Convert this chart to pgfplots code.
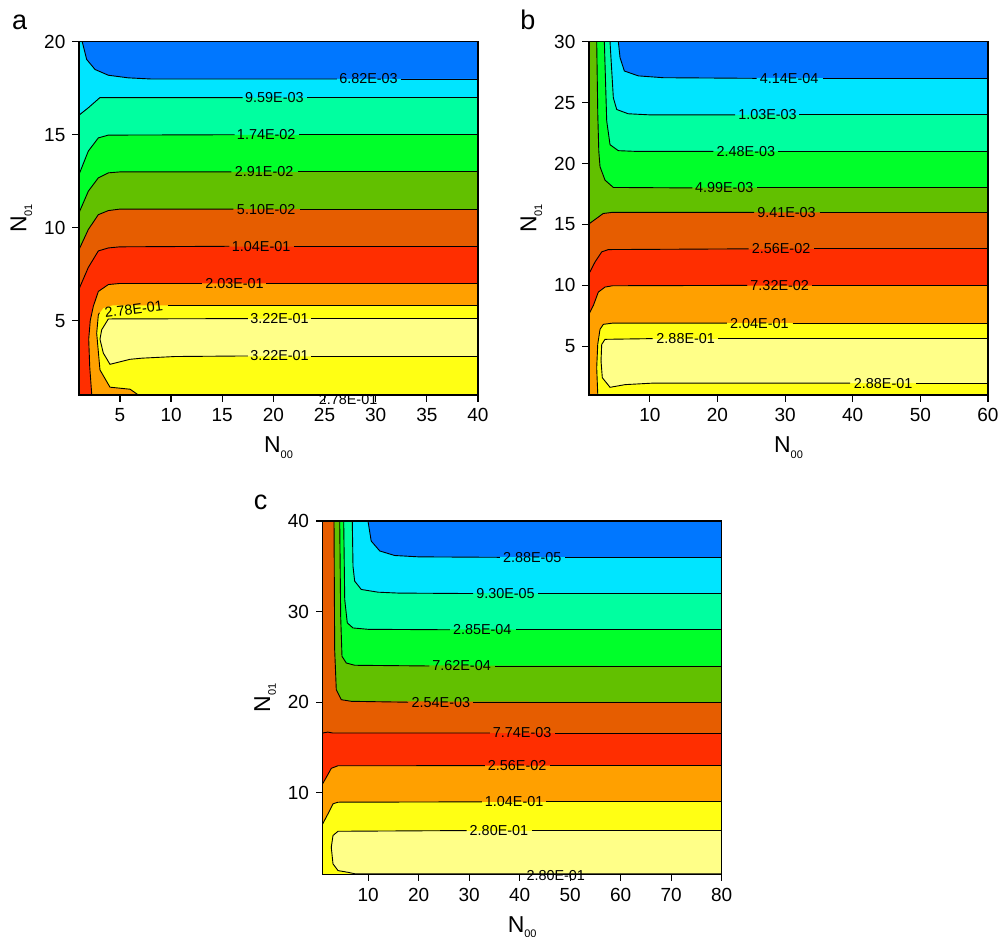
\documentclass[border=0pt]{standalone}
\usepackage{fontspec}
\setmainfont{Liberation Sans}
\usepackage{pgfplots}
\pgfplotsset{compat=1.18}
\definecolor{cBlue}{RGB}{0,119,255}
\definecolor{cCyan}{RGB}{0,229,255}
\definecolor{cAqua}{RGB}{0,255,160}
\definecolor{cGreen}{RGB}{0,255,42}
\definecolor{cOlive}{RGB}{98,192,0}
\definecolor{cDOrange}{RGB}{230,93,0}
\definecolor{cRed}{RGB}{255,46,0}
\definecolor{cOrange}{RGB}{255,160,0}
\definecolor{cYellow}{RGB}{255,255,20}
\definecolor{cLYellow}{RGB}{255,255,136}
\newcommand{\sublab}[2]{#1\raisebox{-2.8pt}{\fontsize{5.5}{6}\selectfont #2}}
\newcommand{\clab}[4][0]{\node[font=\fontsize{7.2}{8}\selectfont,inner sep=0pt,rotate=#1] at (axis cs:#2,#3) {#4};}
\pgfplotsset{
 cplot/.style={
  scale only axis, width=199.5pt, height=176.6pt, anchor=south west,
  axis on top, clip mode=individual,
  tick align=outside, xtick pos=left, ytick pos=left,
  major tick length=3.3pt,
  tick style={black, line width=0.6pt},
  axis line style={line width=0.7pt},
  ticklabel style={font=\fontsize{9.5}{11}\selectfont},
  /pgf/number format/assume math mode=true,
  xlabel style={font=\fontsize{11.5}{13}\selectfont, at={(axis description cs:0.5,-0.118)}, anchor=north, inner sep=0pt},
  ylabel style={font=\fontsize{11.5}{13}\selectfont, at={(axis description cs:-0.1163,0.5)}, anchor=south, inner sep=0pt},
  xlabel={\sublab{N}{00}}, ylabel={\sublab{N}{01}},
 },
 fl/.style={draw=none, fill=#1, forget plot, mark=none},
 cl/.style={black, line width=0.45pt, forget plot, mark=none},
}
\begin{document}
\begin{tikzpicture}
\useasboundingbox (0pt,0pt) rectangle (499pt,468.5pt);
% ================= panel a =================
\begin{axis}[cplot, at={(39.5pt,271pt)}, xmin=1, xmax=40, ymin=1, ymax=20,
  xtick={5,10,...,40}, ytick={5,10,15,20}]
\addplot[fl=cBlue] coordinates {(1,1) (40,1) (40,20) (1,20)} -- cycle;
\addplot[fl=cCyan] coordinates {(1,20) (1.32,20) (1.75,19.05) (2.57,18.51) (3.87,18.2) (5.82,18.06) (8,18.0) (40,18.0) (40,1) (1,1)} -- cycle;
\addplot[fl=cAqua] coordinates {(1,16.05) (1.91,16.45) (3.05,17.0) (40,17.0) (40,1) (1,1)} -- cycle;
\addplot[fl=cGreen] coordinates {(1,12.86) (1.91,14.12) (2.89,14.83) (3.87,14.98) (40,15) (40,1) (1,1)} -- cycle;
\addplot[fl=cOlive] coordinates {(1,10.8) (1.91,11.96) (2.89,12.68) (3.87,12.95) (5,13.0) (40,13) (40,1) (1,1)} -- cycle;
\addplot[fl=cDOrange] coordinates {(1,8.82) (1.91,9.9) (2.89,10.7) (3.87,10.92) (5,11) (40,11) (40,1) (1,1)} -- cycle;
\addplot[fl=cRed] coordinates {(1,6.7) (1.91,7.86) (2.89,8.75) (3.87,8.91) (5,8.97) (40,9) (40,1) (1,1)} -- cycle;
\addplot[fl=cOrange] coordinates {(2.25,1) (2.05,2.5) (1.95,4.0) (2.1,5.0) (2.40,5.77) (2.89,6.57) (3.87,6.94) (5,7.0) (40,7.0) (40,1)} -- cycle;
\addplot[fl=cYellow] coordinates {(6.8,1.0) (6.0,1.31) (4.03,1.42) (3.05,2.35) (2.73,4.32) (2.89,5.3) (3.38,5.67) (4.3,5.82) (40,5.82) (40,1)} -- cycle;
\addplot[fl=cLYellow] coordinates {(40,5.11) (3.87,5.09) (3.22,4.51) (3.05,4.0) (3.38,3.25) (4.03,2.65) (6.0,2.92) (7.13,2.98) (10.4,3.07) (40,3.1)} -- cycle;
% contour lines
\addplot[cl] coordinates {(1.32,20) (1.75,19.05) (2.57,18.51) (3.87,18.2) (5.82,18.06) (8,18.0) (26.2,18.0)};
\addplot[cl] coordinates {(32.5,18.0) (40,18.0)};
\addplot[cl] coordinates {(1,16.05) (1.91,16.45) (3.05,17.0) (17.0,17.0)};
\addplot[cl] coordinates {(23.3,17.0) (40,17.0)};
\addplot[cl] coordinates {(1,12.86) (1.91,14.12) (2.89,14.83) (3.87,14.98) (16.2,15)};
\addplot[cl] coordinates {(22.5,15) (40,15)};
\addplot[cl] coordinates {(1,10.8) (1.91,11.96) (2.89,12.68) (3.87,12.95) (5,13.0) (15.9,13)};
\addplot[cl] coordinates {(22.4,13) (40,13)};
\addplot[cl] coordinates {(1,8.82) (1.91,9.9) (2.89,10.7) (3.87,10.92) (5,11) (16.1,11)};
\addplot[cl] coordinates {(22.6,11) (40,11)};
\addplot[cl] coordinates {(1,6.7) (1.91,7.86) (2.89,8.75) (3.87,8.91) (5,8.97) (15.7,9)};
\addplot[cl] coordinates {(22.0,9) (40,9)};
\addplot[cl] coordinates {(2.25,1) (2.05,2.5) (1.95,4.0) (2.1,5.0) (2.40,5.77) (2.89,6.57) (3.87,6.94) (5,7.0) (13.0,7.0)};
\addplot[cl] coordinates {(19.3,7.0) (40,7.0)};
\addplot[cl] coordinates {(6.8,1.0) (6.0,1.31) (4.03,1.42) (3.05,2.35) (2.73,4.32) (2.89,5.3) (3.0,5.42)};
\addplot[cl] coordinates {(9.7,5.82) (40,5.82)};
\addplot[cl] coordinates {(40,5.11) (23.7,5.11)};
\addplot[cl] coordinates {(17.5,5.11) (3.87,5.09) (3.22,4.51) (3.05,4.0) (3.38,3.25) (4.03,2.65) (6.0,2.92) (7.13,2.98) (10.4,3.07) (17.5,3.1)};
\addplot[cl] coordinates {(23.7,3.1) (40,3.1)};
\addplot[cl] coordinates {(6.8,1.03) (40,1.03)};
\clab{29.3}{18.0}{6.82E-03}
\clab{20.1}{17.0}{9.59E-03}
\clab{19.3}{15.0}{1.74E-02}
\clab{19.1}{13.0}{2.91E-02}
\clab{19.3}{11.0}{5.10E-02}
\clab{18.8}{9.0}{1.04E-01}
\clab{16.2}{7.0}{2.03E-01}
\clab[7]{6.35}{5.6}{2.78E-01}
\clab{20.6}{5.11}{3.22E-01}
\clab{20.6}{3.1}{3.22E-01}
\clab{27.3}{0.75}{2.78E-01}
\end{axis}
% ================= panel b =================
\begin{axis}[cplot, at={(294.5pt,271pt)}, xmin=1, xmax=60, ymin=1, ymax=30,
  xtick={10,20,...,60}, ytick={5,10,...,30}]
\addplot[fl=cBlue] coordinates {(1,1) (60,1) (60,30) (1,30)} -- cycle;
\addplot[fl=cCyan] coordinates {(1,30) (5.34,30) (5.59,28.7) (6.23,27.6) (8.3,27.2) (12,27.05) (60,27) (60,1) (1,1)} -- cycle;
\addplot[fl=cAqua] coordinates {(1,30) (4.11,30) (4.6,25.4) (5.1,24.44) (6.8,24.09) (10,24.0) (60,24) (60,1) (1,1)} -- cycle;
\addplot[fl=cGreen] coordinates {(1,30) (3.27,30) (3.62,23.5) (4.11,21.55) (5.34,21.06) (8,21.0) (60,21) (60,1) (1,1)} -- cycle;
\addplot[fl=cOlive] coordinates {(1,30) (2.14,30) (2.3,24) (2.45,21) (2.63,19.74) (3.37,18.64) (4.6,18.04) (60,18) (60,1) (1,1)} -- cycle;
\addplot[fl=cDOrange] coordinates {(1,15.05) (3.1,15.9) (4.5,16.0) (60,16) (60,1) (1,1)} -- cycle;
\addplot[fl=cRed] coordinates {(1,10.96) (1.89,11.92) (2.88,12.75) (3.86,12.94) (60,13) (60,1) (1,1)} -- cycle;
\addplot[fl=cOrange] coordinates {(1,7.65) (1.64,8.34) (2.38,9.45) (3.37,9.86) (4.5,9.97) (60,10) (60,1) (1,1)} -- cycle;
\addplot[fl=cYellow] coordinates {(2.3,1) (2.14,3.22) (2.29,5.15) (2.63,6.39) (3.12,6.8) (4.5,6.9) (60,6.9) (60,1)} -- cycle;
\addplot[fl=cLYellow] coordinates {(60,5.63) (3.37,5.57) (2.88,5.15) (2.78,3.8) (2.97,2.42) (4.11,1.63) (6.33,1.85) (10.28,1.97) (60,1.97)} -- cycle;
\addplot[cl] coordinates {(5.34,30) (5.59,28.7) (6.23,27.6) (8.3,27.2) (12,27.05) (25.8,27.0)};
\addplot[cl] coordinates {(35.6,27) (60,27)};
\addplot[cl] coordinates {(4.11,30) (4.6,25.4) (5.1,24.44) (6.8,24.09) (10,24.0) (22.6,24)};
\addplot[cl] coordinates {(32.1,24) (60,24)};
\addplot[cl] coordinates {(3.27,30) (3.62,23.5) (4.11,21.55) (5.34,21.06) (8,21.0) (19.4,21)};
\addplot[cl] coordinates {(29.0,21) (60,21)};
\addplot[cl] coordinates {(2.14,30) (2.3,24) (2.45,21) (2.63,19.74) (3.37,18.64) (4.6,18.04) (16.3,18)};
\addplot[cl] coordinates {(25.9,18) (60,18)};
\addplot[cl] coordinates {(1,15.05) (3.1,15.9) (4.5,16.0) (25.4,16)};
\addplot[cl] coordinates {(35.1,16) (60,16)};
\addplot[cl] coordinates {(1,10.96) (1.89,11.92) (2.88,12.75) (3.86,12.94) (24.6,13)};
\addplot[cl] coordinates {(34.3,13) (60,13)};
\addplot[cl] coordinates {(1,7.65) (1.64,8.34) (2.38,9.45) (3.37,9.86) (4.5,9.97) (24.4,10)};
\addplot[cl] coordinates {(34.0,10) (60,10)};
\addplot[cl] coordinates {(2.3,1) (2.14,3.22) (2.29,5.15) (2.63,6.39) (3.12,6.8) (4.5,6.9) (21.4,6.9)};
\addplot[cl] coordinates {(31.1,6.9) (60,6.9)};
\addplot[cl] coordinates {(60,5.63) (20.1,5.63)};
\addplot[cl] coordinates {(10.4,5.63) (3.37,5.57) (2.88,5.15) (2.78,3.8) (2.97,2.42) (4.11,1.63) (6.33,1.85) (10.28,1.97) (39.6,1.97)};
\addplot[cl] coordinates {(49.4,1.97) (60,1.97)};
\clab{30.6}{27}{4.14E-04}
\clab{27.4}{24}{1.03E-03}
\clab{24.2}{21}{2.48E-03}
\clab{21.0}{18}{4.99E-03}
\clab{30.2}{16}{9.41E-03}
\clab{29.4}{13}{2.56E-02}
\clab{29.2}{10}{7.32E-02}
\clab{26.2}{6.9}{2.04E-01}
\clab{15.3}{5.63}{2.88E-01}
\clab{44.5}{1.97}{2.88E-01}
\end{axis}
% ================= panel c =================
\begin{axis}[cplot, at={(161.35pt,31.35pt)}, xmin=1, xmax=80, ymin=1, ymax=40,
  xtick={10,20,...,80}, ytick={10,20,30,40}]
\addplot[fl=cBlue] coordinates {(1,1) (80,1) (80,40) (1,40)} -- cycle;
\addplot[fl=cCyan] coordinates {(1,40) (9.97,40) (10.6,37.8) (12.3,36.7) (15.25,36.2) (20,36.05) (80,36) (80,1) (1,1)} -- cycle;
\addplot[fl=cAqua] coordinates {(1,40) (6.86,40) (7.0,35.0) (7.33,33.37) (8.64,32.45) (11.95,32.15) (16,32.05) (80,32) (80,1) (1,1)} -- cycle;
\addplot[fl=cGreen] coordinates {(1,40) (5.16,40) (5.36,31.34) (5.87,28.76) (7.0,28.2) (10,28.05) (80,28) (80,1) (1,1)} -- cycle;
\addplot[fl=cOlive] coordinates {(1,40) (4.37,40) (4.56,29.5) (4.82,25.07) (5.67,24.33) (7.34,24.08) (80,24) (80,1) (1,1)} -- cycle;
\addplot[fl=cDOrange] coordinates {(1,40) (3.24,40) (3.37,25.8) (3.69,21.39) (4.68,20.28) (6.66,20.1) (80,20) (80,1) (1,1)} -- cycle;
\addplot[fl=cRed] coordinates {(1,16.6) (2,16.7) (3,16.6) (80,16.6) (80,1) (1,1)} -- cycle;
\addplot[fl=cOrange] coordinates {(1,11.0) (1.4,11.4) (2.11,12.1) (2.7,12.7) (4.0,12.98) (80,13) (80,1) (1,1)} -- cycle;
\addplot[fl=cYellow] coordinates {(1,6.57) (2.05,7.68) (3.04,8.78) (4.03,8.96) (80,9) (80,1) (1,1)} -- cycle;
\addplot[fl=cLYellow] coordinates {(80,5.83) (4.03,5.75) (3.04,5.28) (2.7,3.98) (3.04,2.15) (4.03,1.41) (6.0,1.22) (7.5,1.0) (80,1.0)} -- cycle;
\addplot[cl] coordinates {(9.97,40) (10.6,37.8) (12.3,36.7) (15.25,36.2) (20,36.05) (36.1,36)};
\addplot[cl] coordinates {(49,36) (80,36)};
\addplot[cl] coordinates {(6.86,40) (7.0,35.0) (7.33,33.37) (8.64,32.45) (11.95,32.15) (16,32.05) (30.8,32)};
\addplot[cl] coordinates {(43.7,32) (80,32)};
\addplot[cl] coordinates {(5.16,40) (5.36,31.34) (5.87,28.76) (7.0,28.2) (10,28.05) (26.2,28)};
\addplot[cl] coordinates {(39.3,28) (80,28)};
\addplot[cl] coordinates {(4.37,40) (4.56,29.5) (4.82,25.07) (5.67,24.33) (7.34,24.08) (22.1,24)};
\addplot[cl] coordinates {(35.1,24) (80,24)};
\addplot[cl] coordinates {(3.24,40) (3.37,25.8) (3.69,21.39) (4.68,20.28) (6.66,20.1) (17.9,20)};
\addplot[cl] coordinates {(30.8,20) (80,20)};
\addplot[cl] coordinates {(1,16.6) (2,16.7) (3,16.6) (34.1,16.6)};
\addplot[cl] coordinates {(47,16.6) (80,16.6)};
\addplot[cl] coordinates {(1,11.0) (1.4,11.4) (2.11,12.1) (2.7,12.7) (4.0,12.98) (33.1,13)};
\addplot[cl] coordinates {(46,13) (80,13)};
\addplot[cl] coordinates {(1,6.57) (2.05,7.68) (3.04,8.78) (4.03,8.96) (32.5,9)};
\addplot[cl] coordinates {(45.3,9) (80,9)};
\addplot[cl] coordinates {(80,5.83) (42.4,5.83)};
\addplot[cl] coordinates {(29.5,5.83) (4.03,5.75) (3.04,5.28) (2.7,3.98) (3.04,2.15) (4.03,1.41) (6.0,1.22) (7.5,1.04) (80,1.04)};
\clab{42.5}{36}{2.88E-05}
\clab{37.2}{32}{9.30E-05}
\clab{32.6}{28}{2.85E-04}
\clab{28.5}{24}{7.62E-04}
\clab{24.4}{20}{2.54E-03}
\clab{40.5}{16.6}{7.74E-03}
\clab{39.5}{13}{2.56E-02}
\clab{38.9}{9}{1.04E-01}
\clab{35.9}{5.83}{2.80E-01}
\clab{47.15}{0.85}{2.80E-01}
\end{axis}
\node[font=\fontsize{13.5}{15}\selectfont, anchor=base west, inner sep=0pt] at (5.85pt,453.5pt) {a};
\node[font=\fontsize{13.5}{15}\selectfont, anchor=base west, inner sep=0pt] at (260pt,453.5pt) {b};
\node[font=\fontsize{13.5}{15}\selectfont, anchor=base west, inner sep=0pt] at (126.7pt,213.5pt) {c};
\end{tikzpicture}
\end{document}
